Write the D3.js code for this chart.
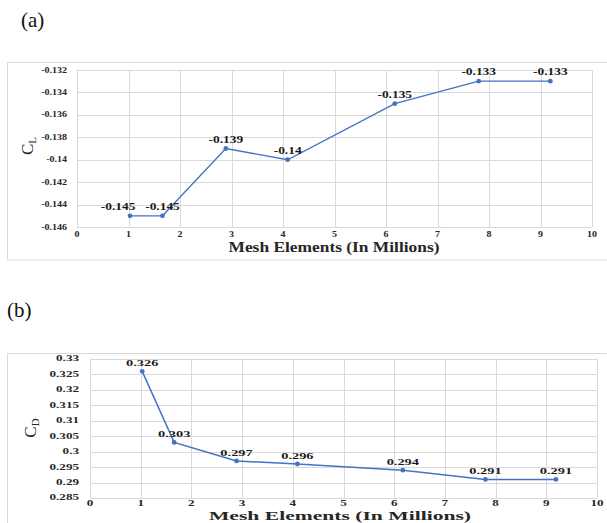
<!DOCTYPE html>
<html>
<head>
<meta charset="utf-8">
<script src="https://cdn.jsdelivr.net/npm/d3@7"></script>
<style>
  html, body { margin: 0; padding: 0; background: #fff; }
  svg { display: block; }
  text { font-family: "Liberation Serif", "Times New Roman", serif; }
</style>
</head>
<body>
<svg id="fig" width="607" height="523"></svg>
<script>
// Mesh independence study: lift and drag coefficients vs. mesh size
const meshElements = [1.03, 1.66, 2.89, 4.09, 6.17, 7.80, 9.19];
const liftCoeff = [-0.145, -0.145, -0.139, -0.14, -0.135, -0.133, -0.133];
const dragCoeff = [0.326, 0.303, 0.297, 0.296, 0.294, 0.291, 0.291];
const liftLabels = ["-0.145", "-0.145", "-0.139", "-0.14", "-0.135", "-0.133", "-0.133"];
const dragLabels = ["0.326", "0.303", "0.297", "0.296", "0.294", "0.291", "0.291"];
const xTicks = [0, 1, 2, 3, 4, 5, 6, 7, 8, 9, 10];
const liftTicks = [-0.132, -0.134, -0.136, -0.138, -0.14, -0.142, -0.144, -0.146];
const dragTicks = [0.33, 0.325, 0.32, 0.315, 0.31, 0.305, 0.3, 0.295, 0.29, 0.285];

const svg = d3.select("#fig");
const LINE = "#4472c4";
const GRID = "#d9d9d9";

// stretched text helper (text is drawn wider than tall)
function stext(g, x, y, str, opts) {
  return g.append("text")
    .attr("transform", `translate(${x},${y}) scale(${opts.sx || 1},1)`)
    .attr("text-anchor", opts.anchor || "middle")
    .attr("font-size", opts.size)
    .attr("font-weight", opts.weight || "bold")
    .attr("fill", opts.fill || "#262626")
    .text(str);
}

function panel(cfg) {
  const g = svg.append("g");
  // outer chart frame
  g.append("rect")
    .attr("x", 7.5).attr("y", cfg.frameTop + 0.5)
    .attr("width", 620).attr("height", cfg.frameH)
    .attr("fill", "none").attr("stroke", GRID).attr("stroke-width", 1);

  const x = d3.scaleLinear().domain([0, 10]).range([cfg.left, cfg.right]);
  const y = d3.scaleLinear().domain(cfg.yDomain).range([cfg.bottom, cfg.top]);

  // gridlines
  g.append("g").selectAll("line").data(cfg.yTicks).join("line")
    .attr("x1", cfg.left).attr("x2", cfg.right)
    .attr("y1", d => Math.round(y(d)) + 0.5).attr("y2", d => Math.round(y(d)) + 0.5)
    .attr("stroke", GRID).attr("stroke-width", 1);
  g.append("g").selectAll("line").data(xTicks).join("line")
    .attr("y1", cfg.top).attr("y2", cfg.bottom)
    .attr("x1", d => Math.round(x(d)) + 0.5).attr("x2", d => Math.round(x(d)) + 0.5)
    .attr("stroke", GRID).attr("stroke-width", 1);

  // tick labels
  cfg.yTicks.forEach(t => {
    stext(g, cfg.left - cfg.yLabelGap, y(t) + cfg.tickSize * 0.33, cfg.yFmt(t),
      { size: cfg.tickSize, sx: cfg.tickSx, anchor: "end" });
  });
  xTicks.forEach(t => {
    stext(g, x(t), cfg.bottom + cfg.xLabelGap, String(t),
      { size: cfg.tickSize, sx: cfg.tickSx });
  });

  // series line and markers
  const pts = meshElements.map((m, i) => [m, cfg.values[i]]);
  g.append("path")
    .attr("d", d3.line().x(d => x(d[0])).y(d => y(d[1]))(pts))
    .attr("fill", "none").attr("stroke", LINE).attr("stroke-width", cfg.lineW);
  g.append("g").selectAll("circle").data(pts).join("circle")
    .attr("cx", d => x(d[0])).attr("cy", d => y(d[1])).attr("r", 2.4)
    .attr("fill", LINE);

  // data labels
  pts.forEach((d, i) => {
    stext(g, x(d[0]) + cfg.nudge(i), y(d[1]) - cfg.labelGap, cfg.labels[i],
      { size: cfg.labelSize, sx: cfg.labelSx, fill: "#1a1a1a" });
  });

  // axis titles
  stext(g, cfg.titleX, cfg.titleY, "Mesh Elements (In Millions)",
    { size: cfg.titleSize, sx: cfg.titleSx, fill: "#262626" });
  const yt = g.append("text")
    .attr("transform", `translate(${cfg.yTitleX},${cfg.yTitleY}) rotate(-90)`)
    .attr("text-anchor", "middle")
    .attr("font-size", 17).attr("fill", "#262626");
  yt.append("tspan").text("C");
  yt.append("tspan").attr("font-size", 11).attr("dy", 3).text(cfg.sub);

  // panel letter
  svg.append("text").attr("x", cfg.letterX).attr("y", cfg.letterY)
    .attr("font-size", 21).attr("fill", "#111").text(cfg.letter);
}

panel({
  letter: "(a)", letterX: 21, letterY: 27,
  frameTop: 62, frameH: 197.5,
  left: 77, right: 592, top: 70, bottom: 227,
  yDomain: [-0.146, -0.132], yTicks: liftTicks,
  yFmt: d => String(+d.toFixed(3)),
  yLabelGap: 10, xLabelGap: 9.5,
  tickSize: 8, tickSx: 1.25,
  values: liftCoeff, labels: liftLabels,
  nudge: i => (i === 0 ? -12 : 0),
  labelGap: 6, labelSize: 11, labelSx: 1.22, lineW: 1.3,
  titleX: 334, titleY: 252, titleSize: 14.5, titleSx: 1.2,
  yTitleX: 33, yTitleY: 146, sub: "L"
});

panel({
  letter: "(b)", letterX: 7, letterY: 317,
  frameTop: 353, frameH: 200,
  left: 90, right: 597, top: 359, bottom: 498,
  yDomain: [0.285, 0.33], yTicks: dragTicks,
  yFmt: d => String(+d.toFixed(3)),
  yLabelGap: 11, xLabelGap: 7.5,
  tickSize: 7.5, tickSx: 1.75,
  values: dragCoeff, labels: dragLabels,
  nudge: () => 0,
  labelGap: 5, labelSize: 8, labelSx: 1.8, lineW: 1.5,
  titleX: 340, titleY: 520, titleSize: 13.5, titleSx: 1.6,
  yTitleX: 36, yTitleY: 428, sub: "D"
});
</script>
</body>
</html>
